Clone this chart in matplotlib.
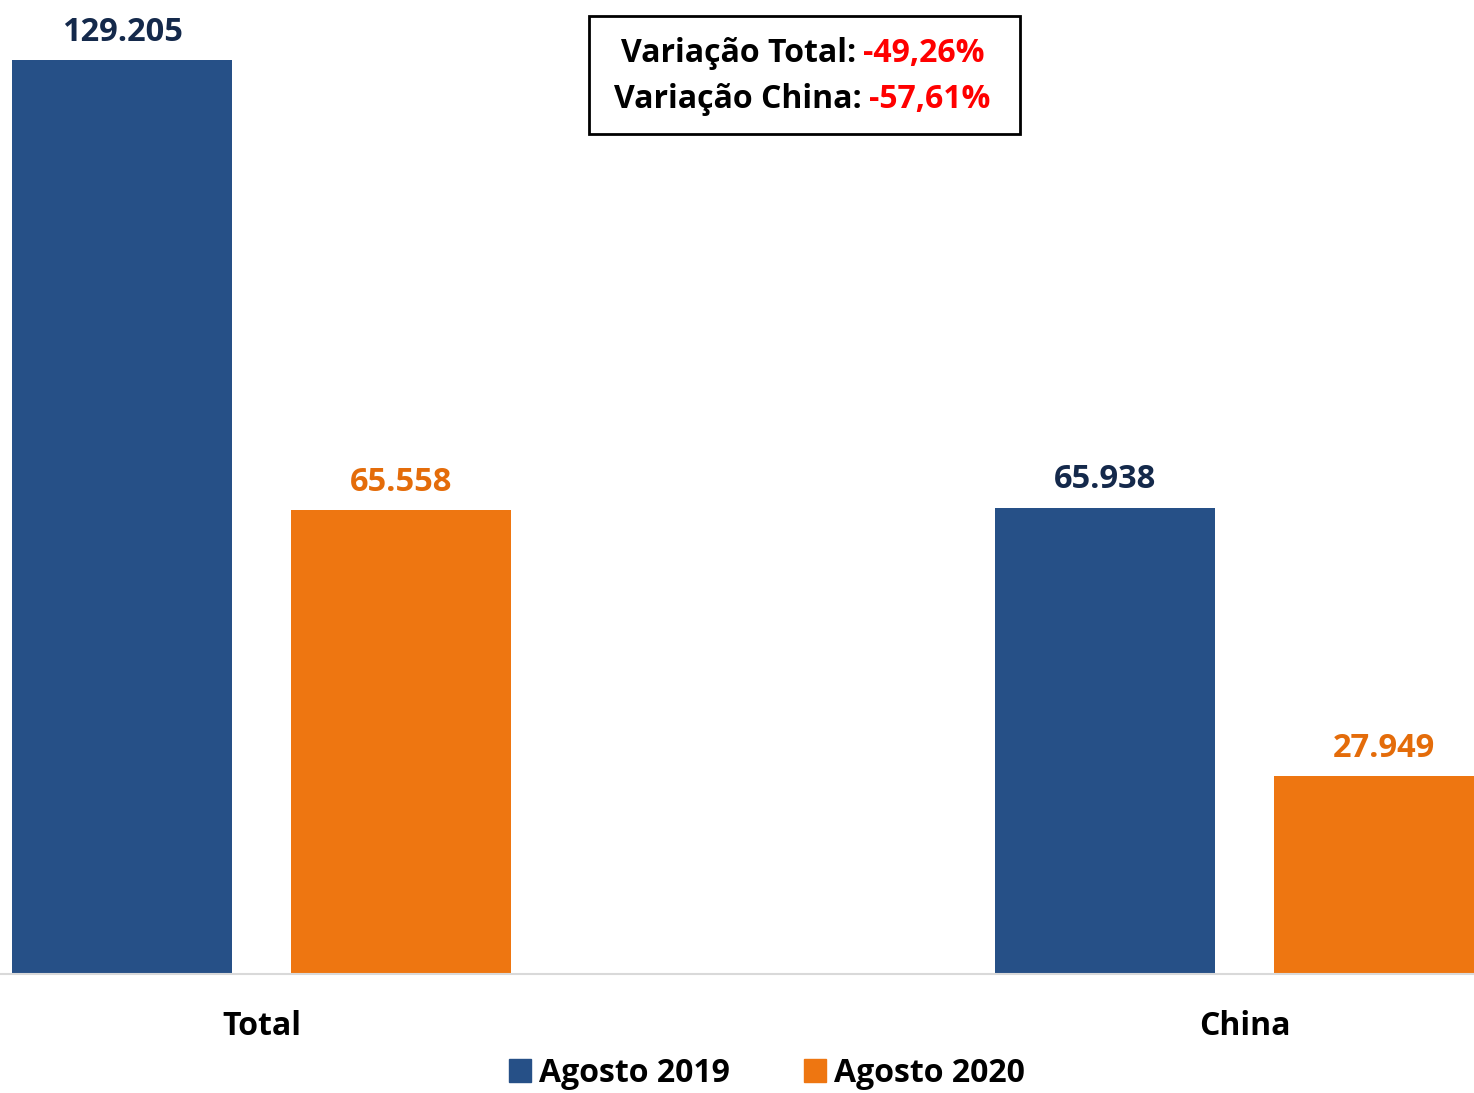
import matplotlib
matplotlib.use("Agg")
import matplotlib.pyplot as plt
from matplotlib.patches import Patch, Rectangle
import numpy as np

categories = ["Total", "China"]
series_names = ["Agosto 2019", "Agosto 2020"]
ago_2019 = [129205, 65938]
ago_2020 = [65558, 27949]
var_labels = ["Variação Total:", "Variação China:"]
var_values = ["-49,26%", "-57,61%"]

blue = "#265087"
orange = "#EE7611"
navy_txt = "#14294B"
orange_txt = "#E46C0A"

plt.rcParams["font.family"] = ["Open Sans", "DejaVu Sans"]
plt.rcParams["font.weight"] = "bold"
fs = 23

fig = plt.figure(figsize=(14.74, 10.93), dpi=100)
ax = fig.add_axes([0, 119 / 1093, 1, 974 / 1093])

x = np.arange(len(categories))
w = 0.2238
off = 0.1419
b1 = ax.bar(x - off, ago_2019, w, color=blue)
b2 = ax.bar(x + off, ago_2020, w, color=orange)

for bars, col in [(b1, navy_txt), (b2, orange_txt)]:
    for b in bars:
        v = b.get_height()
        ax.annotate(f"{v:,}".replace(",", "."),
                    (b.get_x() + b.get_width() / 2, v),
                    xytext=(0, 8), textcoords="offset points",
                    ha="center", va="bottom", fontsize=fs + 0.5,
                    fontweight="bold", color=col)

ax.set_xlim(-261.5 / 983, (1474 - 261.5) / 983)
ax.set_ylim(0, 974 / 914 * 129205)
ax.set_yticks([])
ax.set_xticks(x)
ax.set_xticklabels(categories, fontsize=fs, fontweight="bold")
ax.tick_params(axis="x", length=0, pad=26)
for s in ["top", "right", "left"]:
    ax.spines[s].set_visible(False)
ax.spines["bottom"].set_color("#D9D9D9")
ax.spines["bottom"].set_linewidth(1.5)
ax.patch.set_visible(False)

# variation box
W, H = 1474, 1093
fig.patches.append(Rectangle((589 / W, 1 - 134 / H), 431 / W, 118 / H,
                             transform=fig.transFigure, fill=False,
                             edgecolor="black", linewidth=2))
splits = [856, 862]
ys = [54, 99]
for lab, val, sx, y in zip(var_labels, var_values, splits, ys):
    fig.text(sx / W, 1 - y / H, lab, ha="right", va="center",
             fontsize=fs, fontweight="bold", color="black")
    fig.text((sx + 7) / W, 1 - y / H, val, ha="left", va="center",
             fontsize=fs, fontweight="bold", color="#FF0000")

handles = [Patch(color=blue), Patch(color=orange)]
fig.legend(handles, series_names, loc="center", ncol=2,
           bbox_to_anchor=(767 / 1474, 1 - 1073 / 1093),
           frameon=False, prop=dict(size=fs, weight="bold"),
           handlelength=0.7, handleheight=0.7, handletextpad=0.25,
           columnspacing=2.3)

fig.savefig("out.png", dpi=100)
